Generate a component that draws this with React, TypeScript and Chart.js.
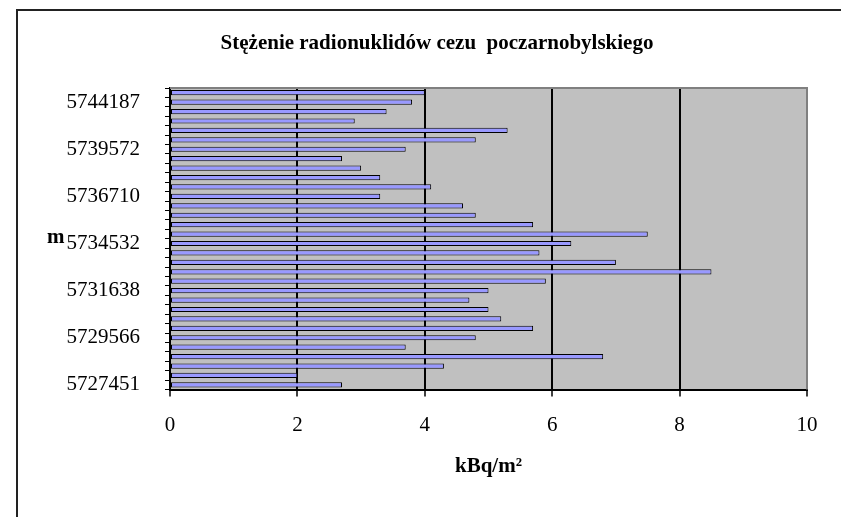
import React, { useEffect, useRef } from "react";
import { Chart, registerables } from "chart.js";

Chart.register(...registerables);

const TITLE = "Stężenie radionuklidów cezu  poczarnobylskiego";
const X_TITLE = "kBq/m²";
const Y_TITLE = "m";

// categories listed from top of the chart to bottom (unlabelled ones left blank)
const categories = [
  "", "5744187", "", "", "", "",
  "5739572", "", "", "", "",
  "5736710", "", "", "", "",
  "5734532", "", "", "", "",
  "5731638", "", "", "", "",
  "5729566", "", "", "", "",
  "5727451",
];

const values = [
  4.0, 3.8, 3.4, 2.9, 5.3, 4.8, 3.7, 2.7, 3.0, 3.3, 4.1, 3.3, 4.6, 4.8, 5.7, 7.5,
  6.3, 5.8, 7.0, 8.5, 5.9, 5.0, 4.7, 5.0, 5.2, 5.7, 4.8, 3.7, 6.8, 4.3, 2.0, 2.7,
];

const xMin = 0;
const xMax = 10;
const xStep = 2;

const FONT = "'Liberation Serif', 'Times New Roman', serif";

const decorPlugin = {
  id: "decor",
  beforeDraw(chart: any) {
    const { ctx, chartArea } = chart;
    ctx.save();
    ctx.fillStyle = "#C0C0C0";
    ctx.fillRect(chartArea.left, chartArea.top, chartArea.right - chartArea.left, chartArea.bottom - chartArea.top);
    ctx.restore();
  },
  afterDraw(chart: any) {
    const { ctx, chartArea } = chart;
    ctx.save();
    // plot-area border (top and right)
    ctx.strokeStyle = "#808080";
    ctx.lineWidth = 2;
    ctx.beginPath();
    ctx.moveTo(chartArea.left, chartArea.top);
    ctx.lineTo(chartArea.right, chartArea.top);
    ctx.lineTo(chartArea.right, chartArea.bottom);
    ctx.stroke();
    // title
    ctx.fillStyle = "#000";
    ctx.font = `bold 21px ${FONT}`;
    ctx.textAlign = "center";
    ctx.textBaseline = "middle";
    ctx.fillText(TITLE, 437, 44);
    // y axis title
    ctx.textAlign = "left";
    ctx.textBaseline = "alphabetic";
    ctx.fillText(Y_TITLE, 47, 243);
    ctx.restore();
  },
};

export default function App() {
  const ref = useRef<HTMLCanvasElement | null>(null);

  useEffect(() => {
    if (!ref.current) return;
    const chart = new Chart(ref.current, {
      type: "bar",
      data: {
        labels: categories,
        datasets: [
          {
            data: values,
            backgroundColor: "#9999FF",
            borderColor: "#000000",
            borderWidth: 1,
            borderSkipped: false,
            categoryPercentage: 1,
            barPercentage: 0.55,
          },
        ],
      },
      options: {
        indexAxis: "y",
        animation: false,
        responsive: false,
        layout: { padding: { top: 88, right: 34, bottom: 34, left: 0 } },
        plugins: {
          legend: { display: false },
          tooltip: { enabled: false },
          title: { display: false },
        },
        scales: {
          x: {
            min: xMin,
            max: xMax,
            ticks: {
              stepSize: xStep,
              color: "#000",
              font: { family: FONT, size: 21 },
              padding: 16,
            },
            grid: {
              color: "#000",
              lineWidth: 2,
              tickLength: 7,
              tickWidth: 1.5,
            },
            border: { color: "#000", width: 2 },
            title: {
              display: true,
              text: X_TITLE,
              color: "#000",
              font: { family: FONT, size: 21, weight: "bold" },
              padding: { top: 0, bottom: 4 },
            },
          },
          y: {
            afterFit: (scale: any) => {
              scale.width = 170;
            },
            ticks: {
              autoSkip: false,
              color: "#000",
              font: { family: FONT, size: 21 },
              padding: 25,
            },
            grid: {
              drawOnChartArea: false,
              color: "#000",
              tickLength: 5,
              lineWidth: 1,
              offset: true,
            },
            border: { color: "#000", width: 2 },
          },
        },
      },
      plugins: [decorPlugin],
    });
    return () => chart.destroy();
  }, []);

  return (
    <div style={{ position: "absolute", left: 0, top: 0, width: 841, height: 517, background: "#fff", overflow: "hidden" }}>
      <canvas ref={ref} width={841} height={517} style={{ display: "block" }} />
      <div
        style={{
          position: "absolute",
          left: 16,
          top: 9,
          width: 900,
          height: 600,
          borderLeft: "2px solid #222",
          borderTop: "2px solid #222",
          pointerEvents: "none",
        }}
      />
    </div>
  );
}
